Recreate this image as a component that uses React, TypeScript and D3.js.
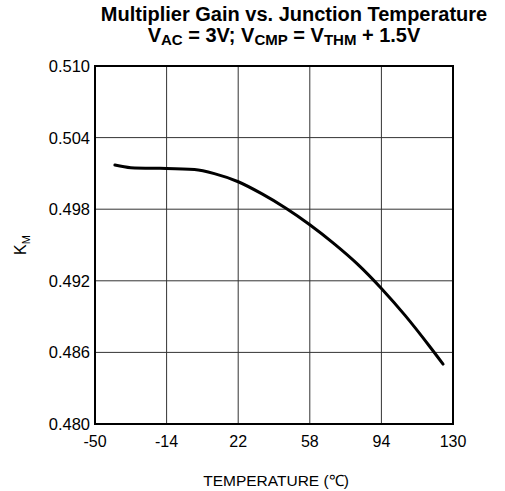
import React from "react";
import * as d3 from "d3";

const temps = [-40, -32, -20, -14, 0, 10, 22, 34, 46, 58, 70, 82, 94, 106, 118, 125];
const gains = [0.5017, 0.50148, 0.50143, 0.50142, 0.50132, 0.50098, 0.5003, 0.49928, 0.49808, 0.4967, 0.49514, 0.4934, 0.49136, 0.48908, 0.48656, 0.48502];
const xTicks = [-50, -14, 22, 58, 94, 130];
const yTicks = [0.48, 0.486, 0.492, 0.498, 0.504, 0.51];

export default function App() {
  const W = 505, H = 491;
  const L = 95, R = 453, T = 66, B = 424;
  const x = d3.scaleLinear().domain([-50, 130]).range([L, R]);
  const y = d3.scaleLinear().domain([0.48, 0.51]).range([B, T]);
  const pts: [number, number][] = temps.map((t, i) => [t, gains[i]]);
  const line = d3.line<[number, number]>().x(d => x(d[0])).y(d => y(d[1])).curve(d3.curveMonotoneX);
  const font = "'Liberation Sans', Arial, sans-serif";
  return (
    <svg width={W} height={H} style={{ position: "absolute", left: 0, top: 0 }} fontFamily={font}>
      <rect width={W} height={H} fill="#fff" />
      <text x={294} y={21} textAnchor="middle" fontWeight="bold" fontSize={20}>Multiplier Gain vs. Junction Temperature</text>
      <text x={284} y={42} textAnchor="middle" fontWeight="bold" fontSize={20}>
        V<tspan fontSize={15} dy={3}>AC</tspan><tspan dy={-3}> = 3V; V</tspan><tspan fontSize={15} dy={3}>CMP</tspan><tspan dy={-3}> = V</tspan><tspan fontSize={15} dy={3}>THM</tspan><tspan dy={-3}> + 1.5V</tspan>
      </text>
      {xTicks.slice(1, -1).map(t => (
        <line key={"gx" + t} x1={x(t)} x2={x(t)} y1={T} y2={B} stroke="#333" strokeWidth={1} />
      ))}
      {yTicks.slice(1, -1).map(t => (
        <line key={"gy" + t} x1={L} x2={R} y1={y(t)} y2={y(t)} stroke="#333" strokeWidth={1} />
      ))}
      <rect x={L} y={T} width={R - L} height={B - T} fill="none" stroke="#000" strokeWidth={2} />
      <path d={line(pts) || ""} fill="none" stroke="#000" strokeWidth={3} strokeLinecap="round" />
      {yTicks.map(t => (
        <text key={"yl" + t} x={L - 5} y={y(t) + 6} textAnchor="end" fontSize={16.5}>{t.toFixed(3)}</text>
      ))}
      {xTicks.map(t => (
        <text key={"xl" + t} x={x(t)} y={447} textAnchor="middle" fontSize={16}>{t}</text>
      ))}
      <text x={276} y={486} textAnchor="middle" fontSize={15.5}>TEMPERATURE (℃)</text>
      <text transform="translate(26,245) rotate(-90)" textAnchor="middle" fontSize={16}>
        K<tspan fontSize={11} dy={4}>M</tspan>
      </text>
    </svg>
  );
}
